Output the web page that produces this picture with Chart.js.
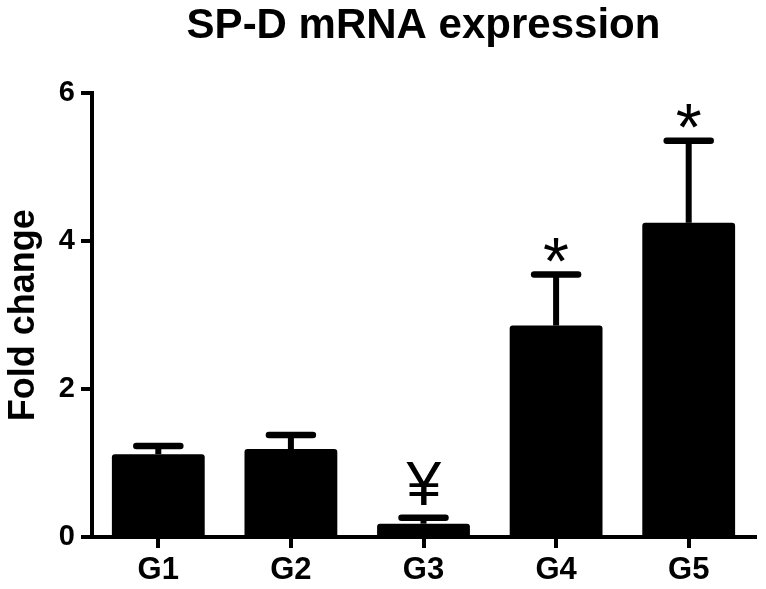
<!DOCTYPE html>
<html>
<head>
<meta charset="utf-8">
<script src="https://cdn.jsdelivr.net/npm/chart.js@4/dist/chart.umd.min.js"></script>
<style>
  html, body { margin: 0; padding: 0; background: #fff; }
  #wrap { width: 766px; height: 589px; position: relative; }
</style>
</head>
<body>
<div id="wrap"><canvas id="c" width="766" height="589"></canvas></div>
<script>
// ---- data ----
const groups = ['G1', 'G2', 'G3', 'G4', 'G5'];
const meanFold = [1.12, 1.19, 0.18, 2.86, 4.25];
const semFold = [0.11, 0.19, 0.08, 0.69, 1.11];
const marks = ['', '', '¥', '*', '*'];
const yTicks = [0, 2, 4, 6];

const FONT = '"Liberation Sans", Arial, Helvetica, sans-serif';

const errorBars = {
  id: 'errorBars',
  afterDatasetsDraw(chart) {
    const ctx = chart.ctx;
    const xs = chart.scales.x, ys = chart.scales.y;
    ctx.save();
    ctx.strokeStyle = '#000';
    ctx.fillStyle = '#000';
    groups.forEach((g, i) => {
      const cx = xs.getPixelForValue(i);
      const yBar = ys.getPixelForValue(meanFold[i]);
      const yTop = ys.getPixelForValue(meanFold[i] + semFold[i]);
      // stem
      ctx.lineWidth = 6;
      ctx.lineCap = 'butt';
      ctx.beginPath();
      ctx.moveTo(cx, yBar);
      ctx.lineTo(cx, yTop);
      ctx.stroke();
      // cap
      ctx.lineCap = 'round';
      ctx.lineWidth = 6.5;
      ctx.beginPath();
      ctx.moveTo(cx - 22, yTop);
      ctx.lineTo(cx + 22, yTop);
      ctx.stroke();
      // significance mark
      const m = marks[i];
      if (m) {
        const targetH = m === '*' ? 24 : 43;
        ctx.font = '100px ' + FONT;
        let mm = ctx.measureText(m);
        const h100 = mm.actualBoundingBoxAscent + mm.actualBoundingBoxDescent;
        const size = 100 * targetH / h100;
        ctx.font = size + 'px ' + FONT;
        mm = ctx.measureText(m);
        ctx.textAlign = 'left';
        ctx.textBaseline = 'alphabetic';
        const bottom = yTop - 3 - 10;
        const y = bottom - mm.actualBoundingBoxDescent;
        const x = cx - (mm.actualBoundingBoxRight - mm.actualBoundingBoxLeft) / 2;
        ctx.fillText(m, x, y);
      }
    });
    ctx.restore();
  }
};

new Chart(document.getElementById('c'), {
  type: 'bar',
  data: {
    labels: groups,
    datasets: [{
      data: meanFold,
      backgroundColor: '#000',
      borderColor: '#000',
      borderWidth: 0,
      borderRadius: 3,
      borderSkipped: 'bottom',
      categoryPercentage: 0.7,
      barPercentage: 1.0
    }]
  },
  options: {
    responsive: false,
    animation: false,
    devicePixelRatio: 1,
    layout: { padding: { top: 0, right: 11, bottom: 0, left: 0 } },
    plugins: {
      legend: { display: false },
      tooltip: { enabled: false },
      title: {
        display: true,
        fullSize: false,
        text: 'SP-D mRNA expression',
        color: '#000',
        font: { family: FONT, size: 42, weight: 'bold' },
        padding: { top: 1, bottom: 42 }
      }
    },
    scales: {
      x: {
        offset: true,
        grid: {
          offset: false,
          drawOnChartArea: false,
          drawTicks: true,
          tickLength: 11,
          tickColor: '#000',
          tickWidth: 4,
          color: '#000',
          lineWidth: 4
        },
        border: { display: true, color: '#000', width: 4 },
        ticks: {
          color: '#000',
          padding: 4,
          font: { family: FONT, size: 31, weight: 'bold' }
        },
        afterFit(scale) { scale.height = 52; }
      },
      y: {
        min: 0,
        max: 6,
        afterBuildTicks(scale) { scale.ticks = yTicks.map(v => ({ value: v })); },
        grid: {
          drawOnChartArea: false,
          drawTicks: true,
          tickLength: 11,
          tickColor: '#000',
          tickWidth: 4,
          color: '#000',
          lineWidth: 4
        },
        border: { display: true, color: '#000', width: 4 },
        ticks: {
          color: '#000',
          padding: 6,
          font: { family: FONT, size: 29, weight: 'bold' }
        },
        title: {
          display: true,
          text: 'Fold change',
          color: '#000',
          padding: { top: 2, bottom: 0 },
          font: { family: FONT, size: 36, weight: 'bold' }
        },
        afterFit(scale) { scale.width = 92; }
      }
    }
  },
  plugins: [errorBars]
});
</script>
</body>
</html>
